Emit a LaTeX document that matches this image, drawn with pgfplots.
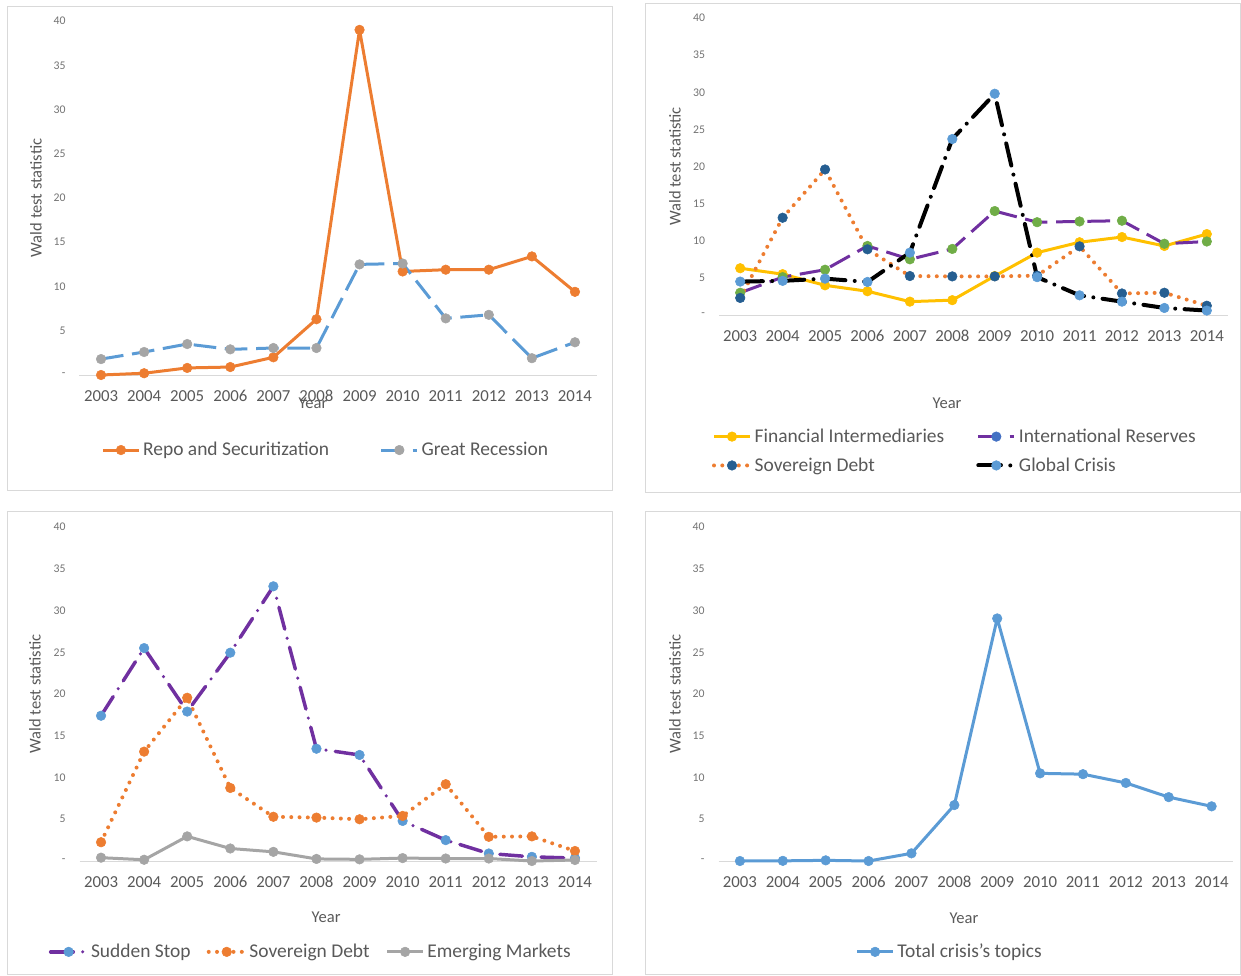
\documentclass[border=0pt]{standalone}
\usepackage{fontspec}
\setmainfont{Carlito}
\usepackage{pgfplots}
\pgfplotsset{compat=1.18}
\definecolor{xlOrange}{HTML}{ED7D31}
\definecolor{xlBlue}{HTML}{5B9BD5}
\definecolor{xlGrey}{HTML}{A5A5A5}
\definecolor{xlYellow}{HTML}{FFC000}
\definecolor{xlGreen}{HTML}{70AD47}
\definecolor{xlDkBlue}{HTML}{255E91}
\definecolor{xlPurple}{HTML}{7030A0}
\definecolor{xlMidBlue}{HTML}{4472C4}
\definecolor{txt}{HTML}{595959}
\definecolor{frm}{HTML}{D9D9D9}

\pgfplotsset{
  panel/.style={
    scale only axis, clip=false,
    xmin=2002.5, xmax=2014.5, ymin=0, ymax=40,
    axis line style={draw=none}, tick style={draw=none},
    xtick={2003,2004,2005,2006,2007,2008,2009,2010,2011,2012,2013,2014},
    xticklabels={2003,2004,2005,2006,2007,2008,2009,2010,2011,2012,2013,2014},
    ytick={0,5,10,15,20,25,30,35,40},
    yticklabels={-,5,10,15,20,25,30,35,40},
    /pgf/number format/assume math mode=true,
    extra y ticks={0}, extra y tick labels={},
    extra y tick style={grid=major, major grid style={frm, line width=0.75pt}},
    xticklabel style={font=\fontsize{12.6}{14}\selectfont, text=txt, yshift=-8pt},
    yticklabel style={font=\fontsize{8.8}{10}\selectfont, text=txt!85, xshift=-7pt},
    ylabel={Wald test statistic}, xlabel={Year},
    ylabel style={font=\fontsize{12.4}{14}\selectfont, text=txt, anchor=center, rotate=0},
    xlabel style={font=\fontsize{12.4}{14}\selectfont, text=txt, anchor=center},
    legend style={draw=none, fill=none, font=\fontsize{14.6}{17}\selectfont, text=txt, anchor=center,
      /tikz/every odd column/.append style={column sep=0pt}},
    legend cell align=left,
    legend image code/.code={\draw[mark repeat=2,mark phase=2,#1] plot coordinates {(0pt,0pt) (13.5pt,0pt) (27pt,0pt)};},
  },
  ser/.style 2 args={line width=2.25pt, line join=round, color=#1, mark=*, mark size=3.6pt,
    mark options={solid, line width=0.4pt, fill=#2, draw=#2}},
  longdash/.style={dash pattern=on 17pt off 6.5pt},
  rounddot/.style={line width=3pt, line cap=round, dash pattern=on 0pt off 6.2pt},
  longdashdot/.style={line cap=round, dash pattern=on 17pt off 7pt on 0pt off 7pt},
}

\begin{document}
\begin{tikzpicture}
\useasboundingbox (0,0) rectangle (930.75pt,-731.25pt);
\draw[frm, line width=0.75pt] (5.25pt,-4.5pt) rectangle (459pt,-367.5pt);
\draw[frm, line width=0.75pt] (483.75pt,-2.25pt) rectangle (930pt,-369pt);
\draw[frm, line width=0.75pt] (5.25pt,-383.25pt) rectangle (459pt,-731pt);
\draw[frm, line width=0.75pt] (483.75pt,-383.25pt) rectangle (930pt,-731pt);

% Top left
\begin{axis}[panel, at={(59.625pt,-281.25pt)}, anchor=south west,
  width=387.75pt, height=265.5pt,
  ylabel style={at={(axis description cs:-0.0841,0.5)}},
  xlabel style={at={(axis description cs:0.4516,-0.0791)}},
  legend columns=2,
  legend style={at={(axis description cs:0.477,-0.212)},
    /tikz/every even column/.append style={column sep=36pt}},
]
\addplot[ser={xlOrange}{xlOrange}] coordinates {
(2003,0) (2004,0.2) (2005,0.8) (2006,0.9) (2007,2.0) (2008,6.3)
(2009,39.0) (2010,11.7) (2011,11.9) (2012,11.9) (2013,13.4) (2014,9.4)};
\addlegendentry{Repo and Securitization}
\addplot[ser={xlBlue}{xlGrey}, longdash] coordinates {
(2003,1.8) (2004,2.6) (2005,3.5) (2006,2.9) (2007,3.05) (2008,3.05)
(2009,12.5) (2010,12.6) (2011,6.4) (2012,6.8) (2013,1.9) (2014,3.7)};
\addlegendentry{Great Recession}
\end{axis}

% Top right
\begin{axis}[panel, at={(539.25pt,-236.25pt)}, anchor=south west,
  width=381.75pt, height=222.75pt,
  ylabel style={at={(axis description cs:-0.0864,0.5)}},
  xlabel style={at={(axis description cs:0.448,-0.2963)}},
  legend columns=2,
  legend style={at={(axis description cs:0.464,-0.458)}, row sep=6pt,
    /tikz/every even column/.append style={column sep=22pt}},
]
\addplot[ser={xlYellow}{xlYellow}] coordinates {
(2003,6.3) (2004,5.5) (2005,4.0) (2006,3.2) (2007,1.8) (2008,2.0)
(2009,5.25) (2010,8.4) (2011,9.8) (2012,10.5) (2013,9.3) (2014,10.9)};
\addlegendentry{Financial Intermediaries}
\addlegendimage{ser={xlPurple}{xlMidBlue}, longdash}
\addlegendentry{International Reserves}
\addplot[ser={xlPurple}{xlGreen}, longdash, forget plot] coordinates {
(2003,3.0) (2004,5.1) (2005,6.1) (2006,9.3) (2007,7.5) (2008,8.9)
(2009,14.0) (2010,12.5) (2011,12.6) (2012,12.7) (2013,9.6) (2014,9.9)};
\addplot[ser={xlOrange}{xlDkBlue}, rounddot] coordinates {
(2003,2.3) (2004,13.1) (2005,19.6) (2006,8.85) (2007,5.25) (2008,5.2)
(2009,5.2) (2010,5.3) (2011,9.25) (2012,2.9) (2013,3.0) (2014,1.25)};
\addlegendentry{Sovereign Debt}
\addplot[ser={black}{xlBlue}, line width=3pt, longdashdot] coordinates {
(2003,4.5) (2004,4.6) (2005,4.9) (2006,4.45) (2007,8.4) (2008,23.7)
(2009,29.8) (2010,5.1) (2011,2.65) (2012,1.8) (2013,0.95) (2014,0.6)};
\addlegendentry{Global Crisis}
\end{axis}

% Bottom left
\begin{axis}[panel, at={(59.625pt,-645.75pt)}, anchor=south west,
  width=387.75pt, height=250.5pt,
  ylabel style={at={(axis description cs:-0.086,0.5)}},
  xlabel style={at={(axis description cs:0.477,-0.1677)}},
  legend columns=3,
  legend style={at={(axis description cs:0.448,-0.272)},
    /tikz/every even column/.append style={column sep=10pt}},
]
\addplot[ser={xlPurple}{xlBlue}, line width=2.6pt, longdashdot] coordinates {
(2003,17.4) (2004,25.5) (2005,17.9) (2006,24.95) (2007,32.9) (2008,13.45)
(2009,12.7) (2010,4.8) (2011,2.5) (2012,0.9) (2013,0.5) (2014,0.35)};
\addlegendentry{Sudden Stop}
\addplot[ser={xlOrange}{xlOrange}, rounddot] coordinates {
(2003,2.25) (2004,13.1) (2005,19.55) (2006,8.75) (2007,5.3) (2008,5.2)
(2009,5.0) (2010,5.4) (2011,9.2) (2012,2.9) (2013,2.95) (2014,1.2)};
\addlegendentry{Sovereign Debt}
\addplot[ser={xlGrey}{xlGrey}] coordinates {
(2003,0.4) (2004,0.15) (2005,2.95) (2006,1.5) (2007,1.1) (2008,0.25)
(2009,0.2) (2010,0.35) (2011,0.3) (2012,0.3) (2013,0.0) (2014,0.12)};
\addlegendentry{Emerging Markets}
\end{axis}

% Bottom right
\begin{axis}[panel, at={(538.875pt,-645.75pt)}, anchor=south west,
  width=385.9pt, height=250.5pt,
  ylabel style={at={(axis description cs:-0.0845,0.5)}},
  xlabel style={at={(axis description cs:0.477,-0.1707)}},
  legend style={at={(axis description cs:0.45,-0.272)}},
]
\addplot[ser={xlBlue}{xlBlue}] coordinates {
(2003,0) (2004,0.02) (2005,0.08) (2006,0) (2007,0.92) (2008,6.7)
(2009,29.05) (2010,10.5) (2011,10.4) (2012,9.35) (2013,7.65) (2014,6.55)};
\addlegendentry{Total crisis\symbol{39}s topics}
\end{axis}
\end{tikzpicture}
\end{document}
